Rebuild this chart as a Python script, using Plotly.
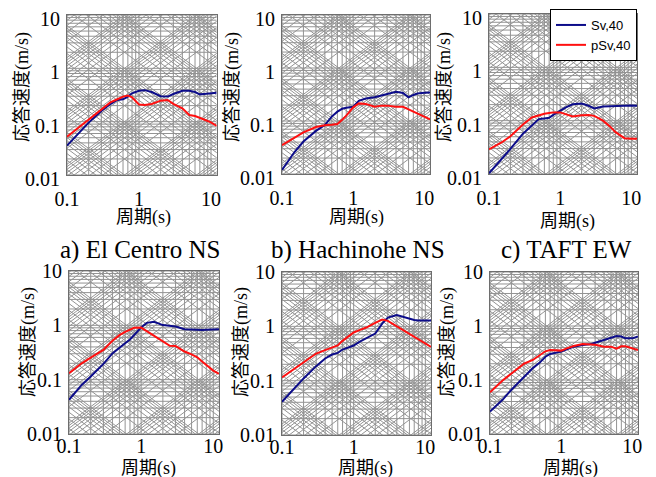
import numpy as np
import plotly.graph_objects as go

# window is 656x477; the page body adds an 8px margin, so the figure is drawn 8px in
PAGE_W, PAGE_H, PAD = 656, 477, 8
W, H = PAGE_W - PAD, PAGE_H - PAD

# Natural periods (s)
periods = [0.1, 0.15, 0.2, 0.3, 0.4, 0.5, 0.6, 0.7, 0.8, 1.0, 1.2, 1.5,
           2, 2.5, 3, 4, 5, 6, 7, 8, 10, 12]

# Response velocity (m/s), top row
elcentro_top_sv = [0.0355, 0.065, 0.096, 0.158, 0.214, 0.255, 0.263, 0.295, 0.34, 0.38, 0.39,
                   0.36, 0.30, 0.295, 0.33, 0.38, 0.38, 0.36, 0.325, 0.33, 0.345, 0.35]
elcentro_top_psv = [0.052, 0.081, 0.107, 0.17, 0.23, 0.263, 0.295, 0.31, 0.285, 0.21, 0.205,
                    0.215, 0.248, 0.255, 0.215, 0.178, 0.133, 0.128, 0.12, 0.11, 0.097, 0.083]
hachinohe_top_sv = [0.0119, 0.026, 0.041, 0.065, 0.084, 0.121, 0.15, 0.17, 0.178, 0.186, 0.24,
                    0.265, 0.28, 0.305, 0.323, 0.357, 0.338, 0.28, 0.31, 0.33, 0.34, 0.345]
hachinohe_top_psv = [0.035, 0.049, 0.061, 0.077, 0.083, 0.085, 0.088, 0.105, 0.126, 0.181, 0.215,
                     0.21, 0.186, 0.195, 0.195, 0.186, 0.186, 0.166, 0.15, 0.135, 0.118, 0.107]
taft_top_sv = [0.0103, 0.0187, 0.0295, 0.057, 0.083, 0.107, 0.11, 0.113, 0.128, 0.154, 0.178,
               0.203, 0.21, 0.19, 0.17, 0.185, 0.188, 0.19, 0.188, 0.19, 0.193, 0.19]
taft_top_psv = [0.029, 0.039, 0.051, 0.085, 0.115, 0.126, 0.135, 0.139, 0.143, 0.143, 0.133,
                0.12, 0.126, 0.128, 0.123, 0.1, 0.078, 0.061, 0.053, 0.047, 0.046, 0.046]

# bottom row
elcentro_bot_sv = [0.0427, 0.080, 0.114, 0.195, 0.305, 0.394, 0.468, 0.55, 0.66, 0.91, 1.11,
                   1.16, 1.01, 0.97, 0.95, 0.85, 0.83, 0.82, 0.82, 0.83, 0.84, 0.85]
elcentro_bot_psv = [0.131, 0.2, 0.255, 0.352, 0.52, 0.66, 0.76, 0.84, 0.90, 0.91, 0.78,
                    0.635, 0.50, 0.42, 0.415, 0.33, 0.293, 0.258, 0.215, 0.187, 0.147, 0.128]
hachinohe_bot_sv = [0.041, 0.075, 0.11, 0.185, 0.256, 0.303, 0.325, 0.374, 0.40, 0.444, 0.518,
                    0.596, 0.736, 1.12, 1.45, 1.62, 1.49, 1.37, 1.31, 1.28, 1.28, 1.28]
hachinohe_bot_psv = [0.115, 0.168, 0.222, 0.316, 0.364, 0.40, 0.444, 0.54, 0.62, 0.77, 0.85,
                     0.95, 1.16, 1.33, 1.26, 1.0, 0.85, 0.736, 0.66, 0.59, 0.48, 0.42]
taft_bot_sv = [0.026, 0.043, 0.066, 0.116, 0.166, 0.21, 0.27, 0.303, 0.312, 0.335, 0.37,
               0.414, 0.445, 0.457, 0.49, 0.55, 0.615, 0.65, 0.64, 0.59, 0.59, 0.64]
taft_bot_psv = [0.059, 0.098, 0.132, 0.2, 0.235, 0.29, 0.34, 0.36, 0.355, 0.35, 0.386,
                0.425, 0.464, 0.464, 0.45, 0.414, 0.414, 0.38, 0.42, 0.42, 0.386, 0.36]

panel_series = [
    (elcentro_top_sv, elcentro_top_psv),
    (hachinohe_top_sv, hachinohe_top_psv),
    (taft_top_sv, taft_top_psv),
    (elcentro_bot_sv, elcentro_bot_psv),
    (hachinohe_bot_sv, hachinohe_bot_psv),
    (taft_bot_sv, taft_bot_psv),
]

captions = ["a) El Centro NS", "b) Hachinohe NS", "c) TAFT EW"]
series_names = ["Sv,40", "pSv,40"]
x_ticks = [0.1, 1, 10]
x_ticktext = ["0.1", "1", "10"]
y_ticks = [0.01, 0.1, 1, 10]
y_ticktext = ["0.01", "0.1", "1", "10"]

X_MIN, X_MAX = 0.1, 12.0
Y_MIN, Y_MAX = 0.01, 10.0

# panel boxes in window pixels: left, right, top, bottom
boxes = [
    (67, 216.7, 15, 175),
    (282, 430, 15, 174),
    (489, 637, 14, 174),
    (69, 219, 271, 434),
    (282, 431, 272, 435),
    (490, 638, 272, 434),
]


def fx(px):
    return (px - PAD) / W


def fy(py):
    return 1 - (py - PAD) / H


SERIF = "Liberation Serif, Noto Sans CJK JP, serif"
GRID = "#939393"
BLUE = "#0c0c8a"
RED = "#ff1010"

fig = go.Figure()


def grid_trace(k):
    xs, ys = [], []
    # vertical and horizontal log grid
    for e in range(-1, 2):
        for m in range(1, 10):
            v = m * 10.0 ** e
            if X_MIN <= v <= X_MAX:
                xs += [v, v, None]
                ys += [Y_MIN, Y_MAX, None]
    for e in range(-2, 2):
        for m in range(1, 10):
            v = m * 10.0 ** e
            if Y_MIN <= v <= Y_MAX * 1.0001:
                xs += [X_MIN, X_MAX, None]
                ys += [v, v, None]
    # tripartite diagonals: constant acceleration and constant displacement
    t0, t1 = 0.05, 30.0
    for e in range(-4, 4):
        for m in range(1, 10):
            a = m * 10.0 ** e
            xs += [t0, t1, None]
            ys += [a * t0 / (2 * np.pi), a * t1 / (2 * np.pi), None]
            d = m * 10.0 ** e
            xs += [t0, t1, None]
            ys += [2 * np.pi * d / t0, 2 * np.pi * d / t1, None]
    return go.Scatter(x=xs, y=ys, mode="lines", line=dict(color=GRID, width=1),
                      hoverinfo="skip", showlegend=False,
                      xaxis="x" if k == 0 else f"x{k+1}",
                      yaxis="y" if k == 0 else f"y{k+1}")


layout_axes = {}
for k, (l, r, t, b) in enumerate(boxes):
    xa = "x" if k == 0 else f"x{k+1}"
    ya = "y" if k == 0 else f"y{k+1}"
    fig.add_trace(grid_trace(k))
    sv, psv = panel_series[k]
    fig.add_trace(go.Scatter(x=periods, y=sv, mode="lines", name=series_names[0],
                             line=dict(color=BLUE, width=2), xaxis=xa, yaxis=ya,
                             showlegend=(k == 2), legendrank=1))
    fig.add_trace(go.Scatter(x=periods, y=psv, mode="lines", name=series_names[1],
                             line=dict(color=RED, width=2), xaxis=xa, yaxis=ya,
                             showlegend=(k == 2), legendrank=2))
    top_row = k < 3
    xkey = "xaxis" if k == 0 else f"xaxis{k+1}"
    ykey = "yaxis" if k == 0 else f"yaxis{k+1}"
    layout_axes[xkey] = dict(
        type="log", domain=[fx(l), fx(r)], anchor=ya, automargin=False,
        range=[np.log10(X_MIN), np.log10(X_MAX)],
        tickvals=x_ticks, ticktext=x_ticktext, showgrid=False, zeroline=False,
        showline=True, mirror=True, linecolor="#6e6e6e", linewidth=1,
        ticks="", ticklabelstandoff=6 if top_row else -6, ticklabeloverflow="allow",
        tickfont=dict(family=SERIF, size=20, color="black"),
    )
    layout_axes[ykey] = dict(
        type="log", domain=[fy(b), fy(t)], anchor=xa, automargin=False,
        range=[np.log10(Y_MIN), np.log10(Y_MAX)],
        tickvals=y_ticks, ticktext=y_ticktext, showgrid=False, zeroline=False,
        showline=True, mirror=True, linecolor="#6e6e6e", linewidth=1,
        ticks="", ticklabelstandoff=2, ticklabeloverflow="allow",
        ticklabelshift=4 if top_row else 0,
        tickfont=dict(family=SERIF, size=20, color="black"),
    )

fig.update_layout(**layout_axes)

annotations = []
# y-axis titles
ytitle_pos = [(22, 87), (232, 87), (444, 87), (28, 342), (241, 342), (447, 342)]
for (px, py) in ytitle_pos:
    annotations.append(dict(text="応答速度(m/s)", x=fx(px), y=fy(py), xref="paper", yref="paper",
                            xanchor="center", yanchor="middle", textangle=-90, showarrow=False,
                            font=dict(family=SERIF, size=18, color="black")))
# x-axis titles
xtitle_pos = [(143, 218), (357, 218), (567, 221), (148, 468), (365, 468), (570, 468)]
for (px, py) in xtitle_pos:
    annotations.append(dict(text="周期(s)", x=fx(px), y=fy(py), xref="paper", yref="paper",
                            xanchor="center", yanchor="middle", showarrow=False,
                            font=dict(family=SERIF, size=18, color="black")))
# captions
cap_pos = [(140, 250), (358, 250), (566, 250)]
for cap, (px, py) in zip(captions, cap_pos):
    annotations.append(dict(text=cap, x=fx(px), y=fy(py), xref="paper", yref="paper",
                            xanchor="center", yanchor="middle", showarrow=False,
                            font=dict(family=SERIF, size=25, color="black")))

fig.update_layout(
    template="none",
    width=W, height=H,
    margin=dict(l=0, r=0, t=0, b=0, autoexpand=False),
    paper_bgcolor="white", plot_bgcolor="white",
    annotations=annotations,
    legend=dict(x=fx(637), y=fy(9), xanchor="right", yanchor="top",
                bgcolor="white", bordercolor="black", borderwidth=1,
                font=dict(family="Liberation Sans, Arial, sans-serif", size=13, color="black"),
                tracegroupgap=0, itemwidth=30),
    showlegend=True,
)

fig.write_html("out.html")
